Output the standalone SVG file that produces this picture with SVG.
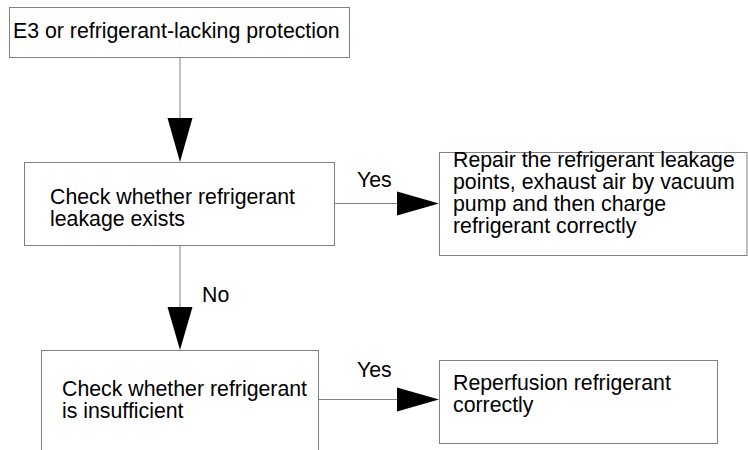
<svg xmlns="http://www.w3.org/2000/svg" width="748" height="450" viewBox="0 0 748 450">
<style>
.box{fill:#fff;stroke:#808080;stroke-width:1}
.ln{stroke:#808080;stroke-width:1;fill:none}
.ah{fill:#000;stroke:none}
text{font-family:"Liberation Sans",Arial,sans-serif;font-size:21.3px;fill:#000}
</style>
<rect width="748" height="450" fill="#fff"/>
<g id="connectors">
<line class="ln" x1="180" y1="57" x2="180" y2="118"/>
<polygon class="ah" points="167.5,118 192.5,118 180,162"/>
<line class="ln" x1="180" y1="245" x2="180" y2="307"/>
<polygon class="ah" points="167.5,307 192.5,307 180,350"/>
<text x="202" y="302">No</text>
<line class="ln" x1="334" y1="203.5" x2="397" y2="203.5"/>
<polygon class="ah" points="397,191.5 397,215.5 439,203.5"/>
<text x="357" y="187">Yes</text>
<line class="ln" x1="318" y1="399.5" x2="397" y2="399.5"/>
<polygon class="ah" points="397,387.5 397,411.5 439,399.5"/>
<text x="357" y="377">Yes</text>
</g>
<g id="n1">
<rect class="box" x="9.5" y="7.5" width="340" height="50"/>
<text x="13" y="38">E3 or refrigerant-lacking protection</text>
</g>
<g id="n2">
<rect class="box" x="24.5" y="162.5" width="310" height="83"/>
<text x="50" y="204">Check whether refrigerant<tspan x="50" y="226">leakage exists</tspan></text>
</g>
<g id="n3">
<rect class="box" x="439.5" y="152.5" width="307.5" height="103"/>
<text x="453" y="167">Repair the refrigerant leakage<tspan x="453" y="189">points, exhaust air by vacuum</tspan><tspan x="453" y="211">pump and then charge</tspan><tspan x="453" y="233">refrigerant correctly</tspan></text>
</g>
<g id="n4">
<rect class="box" x="41.5" y="350.5" width="277" height="120"/>
<text x="62" y="396">Check whether refrigerant<tspan x="62" y="418">is insufficient</tspan></text>
</g>
<g id="n5">
<rect class="box" x="439.5" y="360.5" width="278" height="83"/>
<text x="453" y="390">Reperfusion refrigerant<tspan x="453" y="412">correctly</tspan></text>
</g>
</svg>
